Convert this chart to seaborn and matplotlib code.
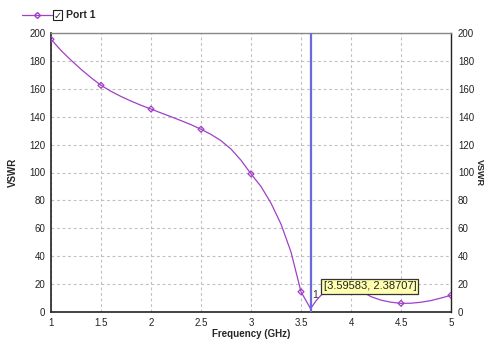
import matplotlib
matplotlib.use("Agg")
import matplotlib.pyplot as plt
from matplotlib.lines import Line2D
from matplotlib.patches import Rectangle
import seaborn as sns
import pandas as pd

# curve readings (GHz, VSWR)
freq = [1.0, 1.1, 1.2, 1.3, 1.4, 1.5, 1.6, 1.7, 1.8, 1.9, 2.0, 2.1, 2.2, 2.3, 2.4, 2.5,
        2.6, 2.7, 2.8, 2.9, 3.0, 3.1, 3.2, 3.3, 3.4, 3.5, 3.59583, 3.65, 3.7, 3.8, 3.9,
        4.0, 4.1, 4.2, 4.3, 4.4, 4.5, 4.6, 4.7, 4.8, 4.9, 5.0]
vswr = [195.5, 187.5, 180.5, 174, 168, 162.5, 158.2, 154.5, 151.2, 148.2, 145.5, 142.7, 140, 137.2, 134.3, 131,
        127.3, 122.8, 116.8, 108.8, 99, 90, 78, 63, 43, 14.5, 2.38707, 8, 12, 16, 19,
        21, 15, 11, 8.5, 7, 6.2, 6.3, 7, 8.2, 10, 12]
# sweep points carrying markers
mk_freq = [1.0, 1.5, 2.0, 2.5, 3.0, 3.5, 4.0, 4.5, 5.0]
mk_vswr = [195.5, 162.5, 145.5, 131, 99, 14.5, 21, 6.2, 12]
marker_x = 3.59583
marker_y = 2.38707
xticks = [1, 1.5, 2, 2.5, 3, 3.5, 4, 4.5, 5]
yticks = [0, 20, 40, 60, 80, 100, 120, 140, 160, 180, 200]

sns.set_style("white")
plt.rcParams['font.family'] = ['Liberation Sans', 'DejaVu Sans']

color = "#a040c8"
df = pd.DataFrame({"f": freq, "v": vswr})
dm = pd.DataFrame({"f": mk_freq, "v": mk_vswr})

fig = plt.figure(figsize=(4.86, 3.44), dpi=100)
ax = fig.add_axes([51/486, 1-312/344, 400/486, 279/344])

sns.lineplot(data=df, x="f", y="v", ax=ax, color=color, lw=0.9, zorder=3)
sns.scatterplot(data=dm, x="f", y="v", ax=ax, marker="D", s=9, facecolor="none",
                edgecolor=color, linewidth=0.9, zorder=4)

ax.axvline(marker_x, color="#6a6ad8", lw=1.6, zorder=5)
ax.text(marker_x + 0.02, marker_y + 6, "1", fontsize=7.5, color="#333333", zorder=6,
        va="bottom", ha="left")
ax.text(marker_x + 0.13, marker_y + 16, "[3.59583, 2.38707]", fontsize=8, zorder=7,
        va="center", ha="left", color="#222222",
        bbox=dict(boxstyle="square,pad=0.2", facecolor="#ffffb0", edgecolor="#333333", lw=0.9))

ax.set_xlim(1, 5)
ax.set_ylim(0, 200)
ax.set_xticks(xticks)
ax.set_xticklabels([("%g" % t) for t in xticks])
ax.set_yticks(yticks)
ax.grid(True, color="#c0c0c0", ls=(0, (2.5, 2.5)), lw=0.8)
ax.tick_params(axis="both", labelsize=7, length=0, pad=4, colors="#222222")
ax.set_xlabel("Frequency (GHz)", fontsize=7, fontweight="bold", labelpad=1)
ax.set_ylabel("VSWR", fontsize=7, fontweight="bold", labelpad=8)
for s in ["left", "bottom"]:
    ax.spines[s].set_color("#222222")
    ax.spines[s].set_linewidth(1.2)
ax.spines["top"].set_color("#888888")
ax.spines["top"].set_linewidth(1.0)
ax.spines["right"].set_color("#222222")
ax.spines["right"].set_linewidth(1.0)

ax2 = ax.twinx()
ax2.set_ylim(0, 200)
ax2.set_yticks(yticks)
ax2.tick_params(axis="y", labelsize=7, length=0, pad=5, colors="#222222")
ax2.set_ylabel("VSWR", fontsize=6.5, fontweight="bold", rotation=270, labelpad=0)
ax2.yaxis.set_label_coords(1.082, 0.5)
for s in ax2.spines.values():
    s.set_visible(False)

# legend header
fig.add_artist(Line2D([22/486, 52/486], [1-15/344, 1-15/344], color=color, lw=0.9))
fig.add_artist(Line2D([37/486], [1-15/344], color=color, marker="D", markersize=3,
                      markerfacecolor="none", lw=0))
fig.add_artist(Rectangle((53/486, 1-20/344), 9/486, 10/344, facecolor="white",
                         edgecolor="#222222", lw=0.8, transform=fig.transFigure))
fig.text(57.5/486, 1-15.5/344, "\u2713", fontsize=7, ha="center", va="center",
         family=["DejaVu Sans"], fontweight="bold")
fig.text(66/486, 1-15/344, "Port 1", fontsize=7.5, fontweight="bold", ha="left", va="center")

fig.savefig("out.png", dpi=100)
